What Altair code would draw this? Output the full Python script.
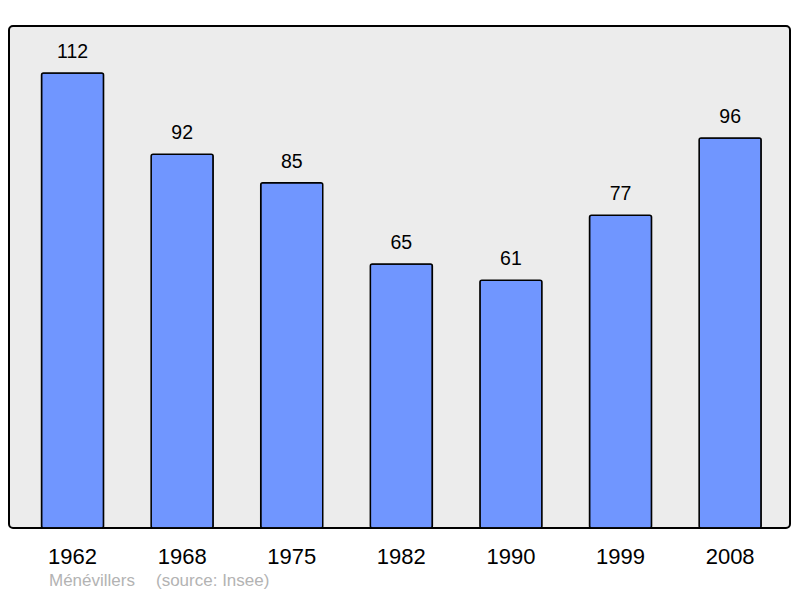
import altair as alt
import pandas as pd

years = ["1962", "1968", "1975", "1982", "1990", "1999", "2008"]
population = [112, 92, 85, 65, 61, 77, 96]
footer_place = ["Ménévillers"]
footer_source = ["(source: Insee)"]

FONT = "Liberation Sans"

df = pd.DataFrame({"year": years, "pop": population})

x = alt.X("year:N", sort=years,
          scale=alt.Scale(paddingInner=0.434, paddingOuter=0.28, align=0.53),
          axis=alt.Axis(title=None, labelAngle=0, domain=False, ticks=False,
                        labelFontSize=22, labelFont=FONT, labelColor="#000000",
                        labelPadding=18))
y = alt.Y("pop:Q", scale=alt.Scale(domain=[0, 123.6], nice=False, zero=True),
          axis=None)

base = alt.Chart(df)

bars = base.mark_bar(color="#7096ff", stroke="#000000", strokeWidth=1.5,
                     cornerRadius=2).encode(x=x, y=y)

labels = base.mark_text(font=FONT, fontSize=19.5, color="#000000",
                        baseline="alphabetic", dy=-15).encode(
    x=x, y=y, text="pop:Q")

foot1 = alt.Chart(pd.DataFrame({"t": footer_place})).mark_text(
    font=FONT, fontSize=17, color="#b3b3b3", align="left",
    baseline="alphabetic").encode(
    x=alt.value(40), y=alt.value(560), text="t:N")

foot2 = alt.Chart(pd.DataFrame({"t": footer_source})).mark_text(
    font=FONT, fontSize=17, color="#b3b3b3", align="left",
    baseline="alphabetic").encode(
    x=alt.value(147), y=alt.value(560), text="t:N")

chart = alt.layer(bars, labels, foot1, foot2).properties(
    width=781, height=502,
    autosize=alt.AutoSizeParams(type="none"),
    padding={"left": 1, "top": 18, "right": 2, "bottom": 62},
    background="#ffffff",
).configure_view(
    fill="#ececec", stroke="#000000", strokeWidth=2, cornerRadius=4
)

chart.save("out.html", embed_options={"renderer": "svg", "actions": False})
